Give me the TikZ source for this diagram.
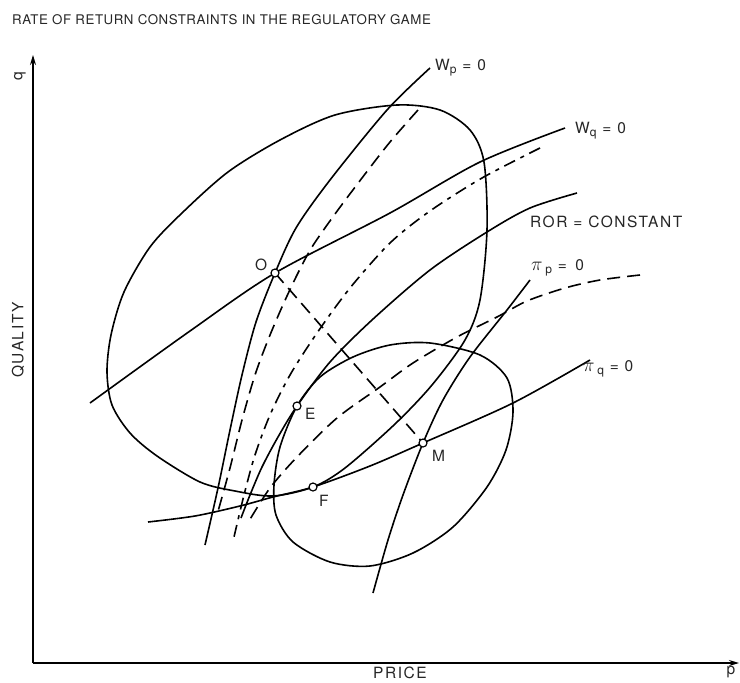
\documentclass[tikz,border=0pt]{standalone}
\usepackage{fontspec}
\setmainfont{TeX Gyre Heros}
\newfontfamily\lblfont[LetterSpace=10]{TeX Gyre Heros}
\newfontfamily\ttlfont[LetterSpace=4]{TeX Gyre Heros}
\usetikzlibrary{arrows.meta}

\begin{document}
\begin{tikzpicture}[
  x=1pt,y=-1pt,
  crv/.style={line width=1.6pt,line join=round},
  dsh/.style={crv,dash pattern=on 13pt off 7pt},
  dshdot/.style={crv,dash pattern=on 12pt off 6pt on 4pt off 6pt},
  axis/.style={line width=1.4pt,-{Stealth[length=10pt,width=6pt]}},
  lbl/.style={font=\lblfont\fontsize{15.5}{17}\selectfont,text=black!85,inner sep=0pt,anchor=west},
  ptmark/.style={circle,draw,fill=white,line width=1.2pt,inner sep=0pt,minimum size=8pt}
]
\useasboundingbox (0,0) rectangle (740,683);
\coordinate (orig) at (33,663);
\coordinate (qtop) at (33,55);
\coordinate (pend) at (739,663);
\coordinate (O) at (275,273);
\coordinate (E) at (297,406);
\coordinate (F) at (313,487);
\coordinate (M) at (423,443);

\draw[axis] (orig) -- (qtop);
\draw[axis] (orig) -- (pend);

\node[lbl,font=\ttlfont\fontsize{13.3}{15}\selectfont] (title) at (12,20) {RATE OF RETURN CONSTRAINTS IN THE REGULATORY GAME};
\node[lbl,rotate=90,anchor=center] (qlab) at (20,76) {q};
\node[lbl,rotate=90,anchor=center] (qual) at (18,340) {QUALITY};
\node[lbl,anchor=center] (price) at (400,673) {PRICE};
\node[lbl,anchor=center] (plab) at (731,672) {p};

% region boundaries
\draw[crv] plot[smooth cycle] coordinates {(397,105) (440,110) (470,130) (484,162) (487,230) (480,300) (465,340) (432,385) (395,424) (345,468) (F) (273,496) (235,491) (200,482) (157,456) (130,433) (112,405) (107,372) (111,335) (124,292) (150,247) (182,213) (228,172) (280,140) (335,115)};
\draw[crv] plot[smooth cycle] coordinates {(430,343) (480,355) (507,378) (513,412) (506,450) (487,487) (453,527) (413,553) (370,566) (330,562) (293,542) (276,515) (274,485) (280,447) (E) (320,377) (353,357) (390,345)};

% reaction curves
\draw[crv] plot[smooth] coordinates {(430,68) (387,110) (330,180) (296,228) (O) (256,322) (242,375) (230,430) (218,488) (205,545)};
\draw[dsh] plot[smooth] coordinates {(418,110) (390,142) (362,178) (335,214) (312,247) (297,275) (282,307) (268,340) (255,375) (242,420) (230,468) (217,515)};
\draw[crv] plot[smooth] coordinates {(90,403) (190,331) (O) (390,213) (480,162) (565,128)};
\draw[dshdot] plot[smooth] coordinates {(540,148) (482,178) (430,211) (390,243) (350,288) (317,333) (290,375) (270,415) (255,455) (244,495) (234,537)};
\draw[crv] plot[smooth] coordinates {(577,193) (530,208) (487,232) (430,270) (372,320) (330,362) (E) (278,437) (262,467) (250,495) (241,518)};
\draw[dsh] plot[smooth] coordinates {(640,275) (600,280) (565,288) (527,301) (497,317) (457,337) (413,363) (380,387) (337,418) (297,457) (270,488) (249,521)};
\draw[crv] plot[smooth] coordinates {(530,280) (507,310) (470,357) (443,400) (M) (403,495) (388,540) (373,593)};
\draw[crv] plot[smooth] coordinates {(148,522) (195,516) (240,506) (273,497) (F) (370,466) (M) (513,403) (590,360)};
\draw[dsh] (O) -- (M);

% curve labels
\node[lbl] (wp) at (435,68) {W\raisebox{-3pt}{\fontsize{12}{13}\selectfont p} = 0};
\node[lbl] (wq) at (575,131) {W\raisebox{-3pt}{\fontsize{12}{13}\selectfont q} = 0};
\node[lbl] (ror) at (530,222) {ROR = CONSTANT};
\node[lbl] (pip) at (531,268) {\scalebox{1.35}{$\pi$}\,\raisebox{-3pt}{\fontsize{12}{13}\selectfont p} = \,0};
\node[lbl] (piq) at (583,369) {\scalebox{1.35}{$\pi$}\,\raisebox{-3pt}{\fontsize{12}{13}\selectfont q} = 0};

% points
\node[ptmark] (pO) at (O) {};
\node[ptmark] (pE) at (E) {};
\node[ptmark] (pF) at (F) {};
\node[ptmark] (pM) at (M) {};
\node[lbl] (lO) at (255,265) {O};
\node[lbl] (lE) at (305,414) {E};
\node[lbl] (lF) at (319,501) {F};
\node[lbl] (lM) at (432,456) {M};
\end{tikzpicture}
\end{document}
